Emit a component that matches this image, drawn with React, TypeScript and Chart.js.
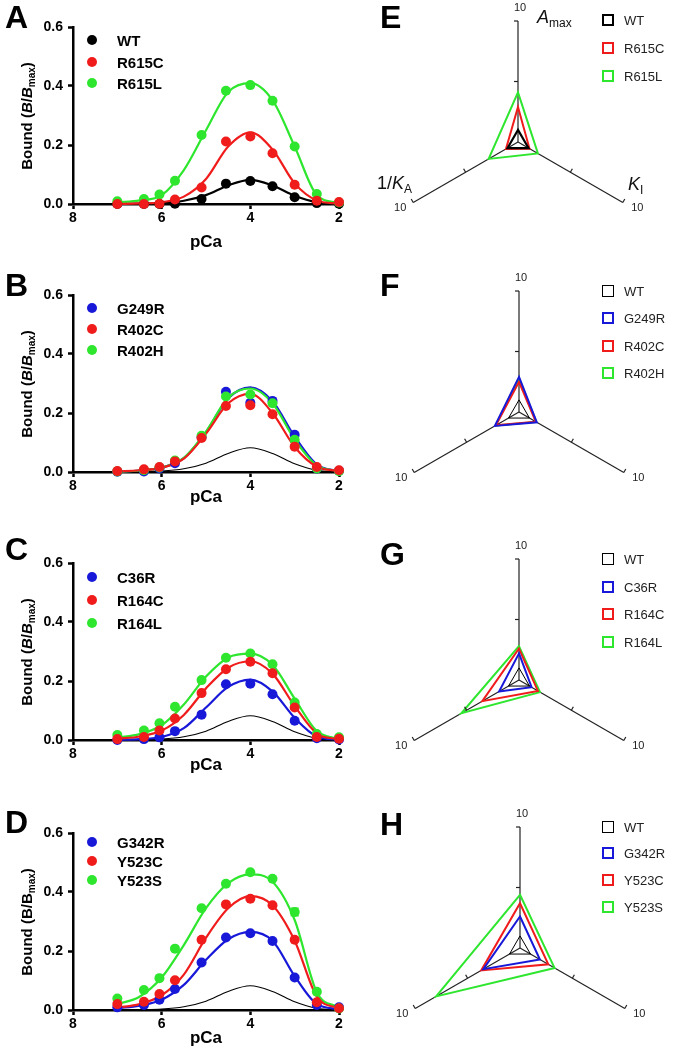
import React, { useEffect, useRef } from "react";
import { Chart, registerables } from "chart.js";
Chart.register(...registerables);

const FONT = "'Liberation Sans', Arial, Helvetica, sans-serif";
const C_BLACK = "#000000";
const C_RED = "#f01c1c";
const C_GREEN = "#2ee62e";
const C_BLUE = "#1818d8";

// ---------- left panels (binding vs pCa) ----------
const pCaMeasured = [7, 6.4, 6.05, 5.7, 5.1, 4.55, 4.0, 3.5, 3.0, 2.5, 2.0];
const pCaFitGrid = [7, 6.5, 6, 5.5, 5, 4.5, 4, 3.5, 3, 2.5, 2];
const boundTicks = [0, 0.2, 0.4, 0.6];
const pCaTicks = [8, 6, 4, 2];

const wtFit = [0.0, 0.001, 0.003, 0.011, 0.03, 0.063, 0.082, 0.063, 0.028, 0.006, 0.0005];
const wtPts = [0.0, 0.0, 0.0, 0.001, 0.017, 0.069, 0.078, 0.06, 0.023, 0.003, 0.001];

const r615cPts = [0.0, 0.0, 0.001, 0.015, 0.056, 0.212, 0.229, 0.172, 0.065, 0.011, 0.007];
const r615cFit = [0.0, 0.002, 0.006, 0.025, 0.085, 0.195, 0.243, 0.185, 0.07, 0.012, 0.001];
const r615lPts = [0.009, 0.017, 0.032, 0.079, 0.234, 0.384, 0.403, 0.35, 0.195, 0.034, 0.005];
const r615lFit = [0.005, 0.012, 0.03, 0.115, 0.25, 0.38, 0.41, 0.352, 0.195, 0.03, 0.003];

const g249rPts = [0.001, 0.002, 0.012, 0.03, 0.118, 0.272, 0.235, 0.241, 0.126, 0.012, 0.004];
const g249rFit = [0.001, 0.005, 0.015, 0.047, 0.135, 0.25, 0.287, 0.24, 0.12, 0.025, 0.003];
const r402cPts = [0.003, 0.009, 0.017, 0.036, 0.115, 0.224, 0.226, 0.196, 0.086, 0.017, 0.006];
const r402cFit = [0.002, 0.006, 0.014, 0.045, 0.13, 0.233, 0.265, 0.2, 0.085, 0.018, 0.003];
const r402hPts = [0.002, 0.006, 0.015, 0.039, 0.123, 0.256, 0.263, 0.233, 0.109, 0.012, 0.003];
const r402hFit = [0.001, 0.005, 0.015, 0.048, 0.137, 0.252, 0.283, 0.233, 0.11, 0.022, 0.003];

const c36rPts = [0.0, 0.003, 0.009, 0.03, 0.086, 0.189, 0.191, 0.155, 0.065, 0.006, 0.002];
const c36rFit = [0.0005, 0.003, 0.01, 0.04, 0.11, 0.18, 0.205, 0.165, 0.075, 0.012, 0.001];
const r164cPts = [0.003, 0.01, 0.032, 0.073, 0.159, 0.24, 0.265, 0.226, 0.11, 0.01, 0.004];
const r164cFit = [0.004, 0.012, 0.032, 0.085, 0.175, 0.245, 0.267, 0.225, 0.115, 0.022, 0.002];
const r164lPts = [0.017, 0.032, 0.057, 0.113, 0.203, 0.279, 0.293, 0.257, 0.127, 0.02, 0.009];
const r164lFit = [0.008, 0.02, 0.05, 0.12, 0.215, 0.28, 0.293, 0.255, 0.14, 0.03, 0.003];

const g342rPts = [0.009, 0.017, 0.035, 0.071, 0.161, 0.246, 0.26, 0.234, 0.11, 0.017, 0.009];
const g342rFit = [0.006, 0.015, 0.035, 0.085, 0.17, 0.24, 0.265, 0.235, 0.115, 0.02, 0.003];
const y523cPts = [0.02, 0.028, 0.054, 0.101, 0.238, 0.358, 0.377, 0.355, 0.238, 0.026, 0.006];
const y523cFit = [0.008, 0.02, 0.05, 0.12, 0.245, 0.345, 0.386, 0.355, 0.235, 0.045, 0.005];
const y523sPts = [0.039, 0.068, 0.108, 0.208, 0.345, 0.428, 0.467, 0.445, 0.332, 0.062, 0.005];
const y523sFit = [0.02, 0.045, 0.11, 0.22, 0.345, 0.43, 0.46, 0.435, 0.305, 0.06, 0.008];
const y523sErr = [0, 0, 0, 0, 0, 0, 0, 0, 0.012, 0, 0];

// ---------- right panels (radar) ----------
const radarAxes = ["Amax", "KI", "1/KA"];
const radarTicks = [5, 10];
const wtRadar = [1, 1, 1];
const r615cRadar = [2.9, 1.1, 1.15];
const r615lRadar = [4.1, 1.9, 2.8];
const g249rRadar = [2.9, 1.7, 2.3];
const r402cRadar = [2.5, 1.6, 2.2];
const r402hRadar = [2.8, 1.65, 2.25];
const c36rRadar = [2.2, 1.2, 1.9];
const r164cRadar = [2.6, 1.8, 3.5];
const r164lRadar = [2.8, 2.0, 5.5];
const g342rRadar = [2.6, 1.9, 3.5];
const y523cRadar = [3.7, 2.7, 3.7];
const y523sRadar = [4.4, 3.3, 8.0];

type LineSeries = { name: string; color: string; points: number[]; fit: number[]; z: number; err?: number[] };
type LinePanel = {
  letter: string; top: number; series: LineSeries[]; wtRef: boolean; titlePad: number;
  legendY: number[]; letterY: number; italic: boolean;
};

const linePanels: LinePanel[] = [
  {
    letter: "A", top: 0, wtRef: false, titlePad: -3, legendY: [40, 62, 83], letterY: 16.5, italic: true,
    series: [
      { name: "WT", color: C_BLACK, points: wtPts, fit: wtFit, z: 3 },
      { name: "R615C", color: C_RED, points: r615cPts, fit: r615cFit, z: 1 },
      { name: "R615L", color: C_GREEN, points: r615lPts, fit: r615lFit, z: 2 },
    ],
  },
  {
    letter: "B", top: 268, wtRef: true, titlePad: 10, legendY: [308, 329, 350], letterY: 284.5, italic: true,
    series: [
      { name: "G249R", color: C_BLUE, points: g249rPts, fit: g249rFit, z: 3 },
      { name: "R402C", color: C_RED, points: r402cPts, fit: r402cFit, z: 1 },
      { name: "R402H", color: C_GREEN, points: r402hPts, fit: r402hFit, z: 2 },
    ],
  },
  {
    letter: "C", top: 536, wtRef: true, titlePad: 10, legendY: [577, 600, 623], letterY: 548.5, italic: true,
    series: [
      { name: "C36R", color: C_BLUE, points: c36rPts, fit: c36rFit, z: 3 },
      { name: "R164C", color: C_RED, points: r164cPts, fit: r164cFit, z: 1 },
      { name: "R164L", color: C_GREEN, points: r164lPts, fit: r164lFit, z: 2 },
    ],
  },
  {
    letter: "D", top: 806, wtRef: true, titlePad: 7, legendY: [842, 861, 880], letterY: 821.5, italic: false,
    series: [
      { name: "G342R", color: C_BLUE, points: g342rPts, fit: g342rFit, z: 3 },
      { name: "Y523C", color: C_RED, points: y523cPts, fit: y523cFit, z: 1 },
      { name: "Y523S", color: C_GREEN, points: y523sPts, fit: y523sFit, z: 2, err: y523sErr },
    ],
  },
];

type RadarSeries = { name: string; color: string; values: number[]; width: number };
type RadarPanel = { letter: string; cx: number; cy: number; series: RadarSeries[]; legendY: number[]; letterY: number; axisNames: boolean };

const radarPanels: RadarPanel[] = [
  {
    letter: "E", cx: 518, cy: 142, legendY: [20, 48, 76], letterY: 16.5, axisNames: true,
    series: [
      { name: "WT", color: C_BLACK, values: wtRadar, width: 2.2 },
      { name: "R615C", color: C_RED, values: r615cRadar, width: 2 },
      { name: "R615L", color: C_GREEN, values: r615lRadar, width: 2 },
    ],
  },
  {
    letter: "F", cx: 519, cy: 412, legendY: [291, 318, 346, 373], letterY: 285, axisNames: false,
    series: [
      { name: "WT", color: C_BLACK, values: wtRadar, width: 1 },
      { name: "G249R", color: C_BLUE, values: g249rRadar, width: 2 },
      { name: "R402C", color: C_RED, values: r402cRadar, width: 2 },
      { name: "R402H", color: C_GREEN, values: r402hRadar, width: 2 },
    ],
  },
  {
    letter: "G", cx: 519, cy: 680, legendY: [559, 587, 614, 642], letterY: 554, axisNames: false,
    series: [
      { name: "WT", color: C_BLACK, values: wtRadar, width: 1 },
      { name: "C36R", color: C_BLUE, values: c36rRadar, width: 2 },
      { name: "R164C", color: C_RED, values: r164cRadar, width: 2 },
      { name: "R164L", color: C_GREEN, values: r164lRadar, width: 2 },
    ],
  },
  {
    letter: "H", cx: 520, cy: 948, legendY: [827, 853, 880, 907], letterY: 823.5, axisNames: false,
    series: [
      { name: "WT", color: C_BLACK, values: wtRadar, width: 1 },
      { name: "G342R", color: C_BLUE, values: g342rRadar, width: 2 },
      { name: "Y523C", color: C_RED, values: y523cRadar, width: 2 },
      { name: "Y523S", color: C_GREEN, values: y523sRadar, width: 2 },
    ],
  },
];

const errorBarPlugin = {
  id: "errorBars",
  afterDatasetsDraw(chart: any) {
    const ctx = chart.ctx;
    const xs = chart.scales.x;
    const ys = chart.scales.y;
    chart.data.datasets.forEach((ds: any) => {
      if (!ds.errors) return;
      ds.data.forEach((pt: any, j: number) => {
        const e = ds.errors[j];
        if (!e) return;
        const px = xs.getPixelForValue(pt.x);
        const top = ys.getPixelForValue(pt.y + e);
        const bot = ys.getPixelForValue(pt.y - e);
        ctx.save();
        ctx.strokeStyle = ds.pointBackgroundColor;
        ctx.lineWidth = 2;
        ctx.beginPath();
        ctx.moveTo(px, top); ctx.lineTo(px, bot);
        ctx.moveTo(px - 4, top); ctx.lineTo(px + 4, top);
        ctx.moveTo(px - 4, bot); ctx.lineTo(px + 4, bot);
        ctx.stroke();
        ctx.restore();
      });
    });
  },
};

function buildLineConfig(p: LinePanel): any {
  const datasets: any[] = [];
  p.series.forEach((s) => {
    datasets.push({
      label: s.name,
      data: pCaMeasured.map((x, j) => ({ x, y: s.points[j] })),
      showLine: false,
      pointRadius: 5,
      pointHoverRadius: 5,
      pointBackgroundColor: s.color,
      pointBorderWidth: 0,
      borderColor: s.color,
      order: s.z,
      clip: false,
      errors: s.err,
    });
    datasets.push({
      label: s.name + " fit",
      data: pCaFitGrid.map((x, j) => ({ x, y: s.fit[j] })),
      showLine: true,
      pointRadius: 0,
      borderColor: s.color,
      borderWidth: 2.2,
      cubicInterpolationMode: "monotone",
      order: 10 + s.z,
      clip: false,
      fill: false,
    });
  });
  if (p.wtRef) {
    datasets.push({
      label: "WT fit",
      data: pCaFitGrid.map((x, j) => ({ x, y: wtFit[j] })),
      showLine: true,
      pointRadius: 0,
      borderColor: C_BLACK,
      borderWidth: 1.1,
      cubicInterpolationMode: "monotone",
      order: 30,
      clip: false,
      fill: false,
    });
  }
  const tickFont = { family: FONT, size: 14, weight: "bold" as const };
  return {
    type: "line",
    data: { datasets },
    options: {
      animation: false,
      responsive: false,
      devicePixelRatio: 1,
      layout: { padding: { top: 27, right: 11, left: 0, bottom: 0 } },
      plugins: { legend: { display: false }, tooltip: { enabled: false } },
      scales: {
        x: {
          type: "linear",
          reverse: true,
          min: 2,
          max: 8,
          afterFit: (s: any) => { s.height = 46; },
          afterBuildTicks: (s: any) => { s.ticks = pCaTicks.map((v) => ({ value: v })); },
          border: { display: true, color: C_BLACK, width: 2.5 },
          grid: { drawOnChartArea: false, drawTicks: true, tickLength: 5, tickWidth: 2.5, tickColor: C_BLACK },
          ticks: { color: C_BLACK, font: tickFont, padding: 1, maxRotation: 0, autoSkip: false },
          title: {
            display: true, text: "pCa", color: C_BLACK,
            font: { family: FONT, size: 17, weight: "bold" },
            padding: { top: 0, bottom: p.titlePad },
          },
        },
        y: {
          type: "linear",
          min: 0,
          max: 0.6,
          afterFit: (s: any) => { s.width = 73; },
          afterBuildTicks: (s: any) => { s.ticks = boundTicks.map((v) => ({ value: v })); },
          border: { display: true, color: C_BLACK, width: 2.5 },
          grid: { drawOnChartArea: false, drawTicks: true, tickLength: 5, tickWidth: 2.5, tickColor: C_BLACK },
          ticks: { color: C_BLACK, font: tickFont, padding: 5, callback: (v: any) => Number(v).toFixed(1) },
        },
      },
    },
    plugins: [errorBarPlugin],
  };
}

const radarLabelOffsets = [[2, -13], [14.5, 5.5], [-13, 5.5]];

const radarDecorPlugin = {
  id: "radarDecor",
  afterDraw(chart: any) {
    const sc = chart.scales.r;
    const ctx = chart.ctx;
    ctx.save();
    ctx.strokeStyle = "#222";
    ctx.lineWidth = 1.2;
    const maxV = radarTicks[radarTicks.length - 1];
    for (let i = 0; i < radarAxes.length; i++) {
      const end = sc.getPointPositionForValue(i, maxV);
      const len = Math.hypot(end.x - sc.xCenter, end.y - sc.yCenter) || 1;
      const ux = (end.x - sc.xCenter) / len;
      const uy = (end.y - sc.yCenter) / len;
      let px = -uy;
      let py = ux;
      if (py > 1e-6 || (Math.abs(py) <= 1e-6 && px > 0)) { px = -px; py = -py; }
      for (const v of radarTicks) {
        const p = sc.getPointPositionForValue(i, v);
        ctx.beginPath();
        ctx.moveTo(p.x, p.y);
        ctx.lineTo(p.x + px * 4, p.y + py * 4);
        ctx.stroke();
      }
      ctx.fillStyle = "#222";
      ctx.font = `11px ${FONT}`;
      ctx.textAlign = "center";
      ctx.textBaseline = "middle";
      const off = radarLabelOffsets[i];
      ctx.fillText(String(maxV), end.x + off[0], end.y + off[1]);
    }
    ctx.restore();
  },
};

const RW = 335;
const RH = 268;

function buildRadarConfig(r: RadarPanel): any {
  const padLeft = r.cx - 340 - 121;
  return {
    type: "radar",
    data: {
      labels: radarAxes,
      datasets: r.series.map((s, i) => ({
        label: s.name,
        data: s.values,
        borderColor: s.color,
        borderWidth: s.width,
        backgroundColor: "rgba(0,0,0,0)",
        fill: false,
        pointRadius: 0,
        pointHoverRadius: 0,
        borderJoinStyle: "miter",
        tension: 0,
        order: i,
      })),
    },
    options: {
      animation: false,
      responsive: false,
      devicePixelRatio: 1,
      layout: { padding: { left: padLeft, right: RW - padLeft - 242, top: 21, bottom: RH - 21 - 242 } },
      plugins: { legend: { display: false }, tooltip: { enabled: false } },
      scales: {
        r: {
          min: 0,
          max: 10,
          startAngle: 0,
          ticks: { display: false, stepSize: 5 },
          grid: { display: false },
          angleLines: { display: true, color: "#222", lineWidth: 1.2 },
          pointLabels: { display: false },
        },
      },
    },
    plugins: [radarDecorPlugin],
  };
}

const abs = (x: number, y: number, extra: any = {}): any => ({
  position: "absolute", left: x, top: y, transform: "translateY(-50%)", lineHeight: 1, whiteSpace: "nowrap", ...extra,
});

function LinePanelView({ p }: { p: LinePanel }) {
  const ref = useRef<HTMLCanvasElement>(null);
  useEffect(() => {
    const chart = new Chart(ref.current as HTMLCanvasElement, buildLineConfig(p));
    return () => chart.destroy();
  }, []);
  const plotMid = p.top + 27 + (204 - 27) / 2;
  const sub = <span style={{ fontSize: 10, position: "relative", top: 3 }}>max</span>;
  return (
    <>
      <canvas ref={ref} width={350} height={250} style={{ position: "absolute", left: 0, top: p.top, width: 350, height: 250 }} />
      <div style={abs(5, p.letterY, { fontSize: 32, fontWeight: "bold" })}>{p.letter}</div>
      <div
        style={{
          position: "absolute", left: 26, top: plotMid, transform: "translate(-50%,-50%) rotate(-90deg)",
          fontSize: 15, fontWeight: "bold", whiteSpace: "nowrap", lineHeight: 1,
        }}
      >
        {p.italic ? (<>Bound (<i>B</i>/<i>B</i>{sub})</>) : (<>Bound (B/B{sub})</>)}
      </div>
      {p.series.map((s, i) => (
        <React.Fragment key={s.name}>
          <div style={{ position: "absolute", left: 87, top: p.legendY[i] - 5, width: 10, height: 10, borderRadius: "50%", background: s.color }} />
          <div style={abs(117, p.legendY[i], { fontSize: 15, fontWeight: "bold" })}>{s.name}</div>
        </React.Fragment>
      ))}
    </>
  );
}

function RadarPanelView({ r }: { r: RadarPanel }) {
  const ref = useRef<HTMLCanvasElement>(null);
  useEffect(() => {
    const chart = new Chart(ref.current as HTMLCanvasElement, buildRadarConfig(r));
    return () => chart.destroy();
  }, []);
  const top = r.cy - 142;
  return (
    <>
      <canvas ref={ref} width={RW} height={RH} style={{ position: "absolute", left: 340, top, width: RW, height: RH }} />
      <div style={abs(380, r.letterY, { fontSize: 32, fontWeight: "bold" })}>{r.letter}</div>
      {r.series.map((s, i) => (
        <React.Fragment key={s.name}>
          <div
            style={{
              position: "absolute", left: 602, top: r.legendY[i] - 6, width: 12, height: 12, boxSizing: "border-box",
              border: `${s.width >= 2 ? 2 : 1}px solid ${s.color}`,
            }}
          />
          <div style={abs(624, r.legendY[i], { fontSize: 13, color: "#222" })}>{s.name}</div>
        </React.Fragment>
      ))}
      {r.axisNames && (
        <>
          <div style={abs(537, r.cy - 125, { fontSize: 18, color: "#111" })}>
            <i>A</i><span style={{ fontSize: 12, position: "relative", top: 4 }}>max</span>
          </div>
          <div style={abs(377, r.cy + 41, { fontSize: 18, color: "#111" })}>
            1/<i>K</i><span style={{ fontSize: 12, position: "relative", top: 4 }}>A</span>
          </div>
          <div style={abs(628, r.cy + 42, { fontSize: 18, color: "#111" })}>
            <i>K</i><span style={{ fontSize: 12, position: "relative", top: 4 }}>I</span>
          </div>
        </>
      )}
    </>
  );
}

export default function App() {
  return (
    <div
      style={{
        position: "absolute", left: 0, top: 0, width: 675, height: 1057, overflow: "hidden",
        background: "#ffffff", fontFamily: FONT, color: "#000",
      }}
    >
      {linePanels.map((p) => (<LinePanelView key={p.letter} p={p} />))}
      {radarPanels.map((r) => (<RadarPanelView key={r.letter} r={r} />))}
    </div>
  );
}
